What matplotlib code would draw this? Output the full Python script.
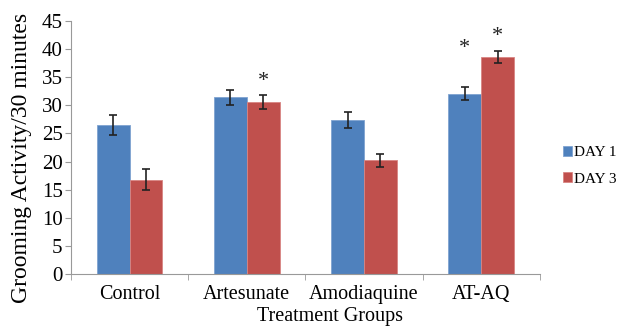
import numpy as np
import matplotlib.pyplot as plt

plt.rcParams['font.family'] = ['Liberation Serif', 'DejaVu Serif']

groups = ["Control", "Artesunate", "Amodiaquine", "AT-AQ"]
day1 = [26.5, 31.4, 27.4, 32.1]
day1_err = [1.7, 1.3, 1.5, 1.2]
day3 = [16.8, 30.6, 20.2, 38.6]
day3_err = [1.8, 1.25, 1.2, 1.1]
# height of the significance star above each bar (None = no star)
star1 = [None, None, None, 41.1]
star3 = [None, 35.1, None, 43.1]

blue = "#4F81BD"
red = "#C0504D"

fig = plt.figure(figsize=(6.21, 3.26), dpi=100)
ax = fig.add_axes([0.1143, 0.1595, 0.755, 0.776])

x = np.arange(len(groups))
w = 0.28
ax.bar(x - w / 2, day1, w, color=blue, edgecolor="#7fa3d0", linewidth=0.6, label="DAY 1")
ax.bar(x + w / 2, day3, w, color=red, edgecolor="#d88583", linewidth=0.6, label="DAY 3")
ax.errorbar(x - w / 2, day1, yerr=day1_err, fmt="none", ecolor="#222222", elinewidth=1.2, capsize=3, capthick=1.2)
ax.errorbar(x + w / 2, day3, yerr=day3_err, fmt="none", ecolor="#222222", elinewidth=1.2, capsize=3, capthick=1.2)

for i in range(len(groups)):
    if star1[i] is not None:
        ax.text(x[i] - w / 2, star1[i] - 0.9, "*", ha="center", va="center", fontsize=16, color="#222222")
    if star3[i] is not None:
        ax.text(x[i] + w / 2, star3[i] - 0.9, "*", ha="center", va="center", fontsize=16, color="#222222")

ax.set_xlim(-0.5, len(groups) - 0.5)
ax.set_ylim(0, 45)
ax.set_yticks(range(0, 46, 5))
ax.tick_params(axis="y", labelsize=15, length=4, color="#999999", pad=2)
ax.set_xticks(x)
ax.set_xticklabels(groups, fontsize=14.5)
ax.tick_params(axis="x", which="major", length=0, pad=8)
ax.set_xticks(np.arange(-0.5, len(groups), 1), minor=True)
ax.tick_params(axis="x", which="minor", length=4, color="#999999")

for s in ["top", "right"]:
    ax.spines[s].set_visible(False)
for s in ["left", "bottom"]:
    ax.spines[s].set_color("#999999")

ax.set_ylabel("Grooming Activity/30 minutes", fontsize=17)
ax.yaxis.set_label_coords(-0.083, 0.46)
fig.text(0.531, 0.0, "Treatment Groups", ha="center", va="bottom", fontsize=14.5)

ax.legend(loc="center left", bbox_to_anchor=(1.05, 0.427), frameon=False, fontsize=11,
          borderpad=0, borderaxespad=0,
          handlelength=0.6, handleheight=0.6, handletextpad=0.1, labelspacing=0.85)

fig.savefig("out.png", dpi=100)
